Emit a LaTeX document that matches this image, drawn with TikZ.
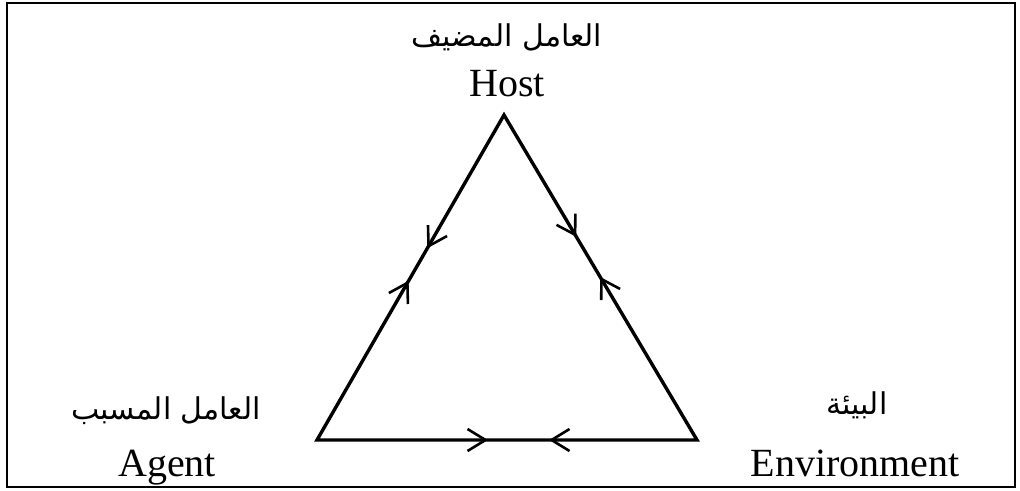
\documentclass[tikz,border=0pt]{standalone}
\usepackage{fontspec}
\setmainfont{Liberation Serif}
\newfontfamily\arabicfont[Script=Arabic]{DejaVu Sans}
\TeXXeTstate=1
\usepackage{tikz}
\usetikzlibrary{positioning,calc,arrows.meta,decorations.markings}

\begin{document}
\begin{tikzpicture}[x=0.5pt,y=-0.5pt,
  side/.style={line width=1.7pt},
  lbl/.style={anchor=base,font=\fontsize{20}{24}\selectfont},
  arlbl/.style={anchor=base,font=\fontsize{15}{18}\arabicfont},
  tip/.style={>={Straight Barb[length=9pt,width=11pt]},line width=1.3pt}]
\useasboundingbox (0,0) rectangle (1020,491);
\draw[line width=1pt] (7,3) rectangle (1015,487);
% corners
\coordinate (host) at (504,115);
\coordinate (agent) at (317,440);
\coordinate (env) at (697,440);
% sides
\draw[side,line join=miter] (agent) -- (host) -- (env) -- cycle;
\draw[side,draw=none,postaction={decorate},decoration={markings,
  mark=at position 0.49 with {\arrow[tip]{>}},
  mark=at position 0.648 with {\arrow[tip]{<}}}] (agent) -- (host);
\draw[side,draw=none,postaction={decorate},decoration={markings,
  mark=at position 0.375 with {\arrow[tip]{>}},
  mark=at position 0.556 with {\arrow[tip]{<}}}] (host) -- (env);
\draw[side,draw=none,postaction={decorate},decoration={markings,
  mark=at position 0.45 with {\arrow[tip]{>}},
  mark=at position 0.668 with {\arrow[tip]{<}}}] (agent) -- (env);
% labels
\node[arlbl] (hostar) at (507,47) {\beginR العامل المضيف\endR};
\node[lbl] (hostlbl) at (507,97) {Host};
\node[arlbl] (agentar) at (166,419) {\beginR العامل المسبب\endR};
\node[lbl] (agentlbl) at (167,476) {Agent};
\node[arlbl] (envar) at (857,414) {\beginR البيئة\endR};
\node[lbl] (envlbl) at (855,476) {Environment};
\end{tikzpicture}
\end{document}
